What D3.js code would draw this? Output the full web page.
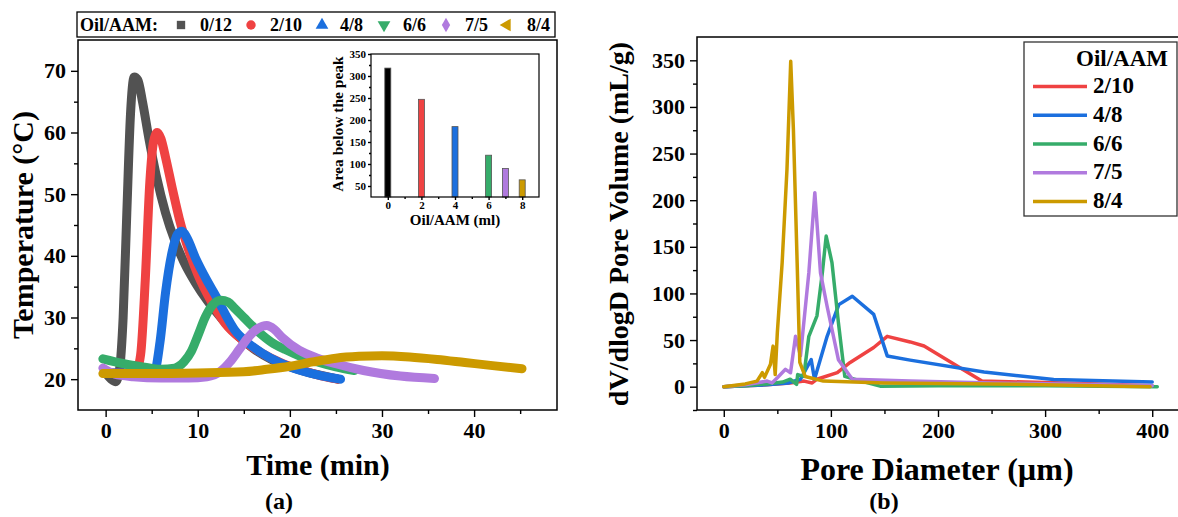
<!DOCTYPE html>
<html><head><meta charset="utf-8">
<script src="https://cdn.jsdelivr.net/npm/d3@7"></script>
<style>
body{margin:0;background:#fff;}
svg{display:block;}
text{font-family:"Liberation Serif","Times New Roman",serif;font-weight:bold;fill:#000;}
</style>
</head><body>
<svg id="c" width="1178" height="517"></svg>
<script>
// ---------- DATA ----------
const seriesNames = ["0/12","2/10","4/8","6/6","7/5","8/4"];
const seriesColors = ["#525252","#ef4242","#1b6fde","#36ac6a","#b07ade","#cc9a00"];
const legendSymbols = ["square","circle","triangle","triangleDown","diamond","triangleLeft"];

// (a) Temperature vs time
const time_0_12 = [0,0.6,1.1,1.5,1.9,2.3,2.7,3.1,3.5,4,4.7,5.5,6.5,7.5,8.5,9.8,11,12.5,14,16,18,20,22,24,25.2];
const temp_0_12 = [21,20,19.6,21.5,30,47,63,69,68.5,65,59,53,47,42.5,39,35.5,32.8,30,27.5,25,23.2,22,21.1,20.4,20];
const time_2_10 = [0,2,3.3,3.8,4.3,4.8,5.2,5.6,6,6.5,7.3,8,9,10,11.5,13,15,17,19,21,23,25.2];
const temp_2_10 = [21,21,21.3,24,36,52,58.5,60,59,56,50.5,46,41,37,32.5,29,26.2,24.2,22.7,21.6,20.7,20];
const time_4_8 = [0,3,5.3,5.9,6.5,7.2,7.8,8.3,8.8,9.8,11,12,13,14,15.5,17,19,21,23,25.5];
const temp_4_8 = [21,21,21.3,26,34,40.5,43.5,44,43,39.5,36,33.4,30.5,28,25.8,24.2,22.6,21.5,20.7,20];
const time_6_6 = [-0.3,2,4,6,7.5,8.5,9.3,10,10.8,11.6,12.5,13.3,14,15,16.5,18,19.5,21,23,25,27];
const temp_6_6 = [23.3,22.5,22,21.6,21.8,22.8,24.5,27,30,32,32.8,32.5,31.5,30,27.8,26,24.8,23.8,22.8,22,21.4];
const time_7_5 = [-0.3,1,3,6,9,11,12.5,13.5,14.5,15.5,16.5,17.5,18.3,19.2,21,23,25,28,32,35.7];
const temp_7_5 = [21.8,20.8,20.4,20.2,20.2,20.4,21.3,22.8,24.8,26.8,28.2,28.7,28.1,26.7,24.7,23.4,22.5,21.4,20.5,20.1];
const time_8_4 = [-0.3,5,10,15,17.5,20,22.5,25,27.5,30,33,36,39,42,45.2];
const temp_8_4 = [20.9,20.9,21,21.2,21.6,22.1,22.8,23.4,23.7,23.8,23.6,23.2,22.7,22.2,21.7];
const timeSeries = [time_0_12,time_2_10,time_4_8,time_6_6,time_7_5,time_8_4];
const tempSeries = [temp_0_12,temp_2_10,temp_4_8,temp_6_6,temp_7_5,temp_8_4];
const timeTicks = [0,10,20,30,40];
const timeMinor = [5,15,25,35,45];
const tempTicks = [20,30,40,50,60,70];
const tempMinor = [25,35,45,55,65];

// inset
const insetOil = [0,2,4,6,7,8];
const insetArea = [318,247,185,120,90,64];
const insetColors = ["#000000","#ef4242","#1b6fde","#36ac6a","#b07ade","#cc9a00"];
const insetXTicks = [0,2,4,6,8];
const insetXMinor = [1,3,5,7];
const insetYTicks = [50,100,150,200,250,300,350];
const insetYMinor = [75,125,175,225,275,325];

// (b) pore size distribution
const poreNames = ["2/10","4/8","6/6","7/5","8/4"];
const poreColors = ["#ef4242","#1b6fde","#36ac6a","#b07ade","#cc9a00"];
const dia_2_10 = [0,20,40,62,75,82.5,87,106,118,140,152.6,174,187,241,300,350,400];
const vol_2_10 = [0,1,2,4,6,4,8,15,26,42,54,48,43.6,6,4.5,3,1];
const dia_4_8 = [0,20,40,60,71.6,81.6,84.7,96.5,107.4,120,140,152.6,174,243,308,400];
const vol_4_8 = [0,1,2,4,8,29,8,54,88,97,77.5,33,28.5,15.7,7.8,5];
const dia_6_6 = [0,20,40,55,62,68,69,74.7,79.4,87,92,95.6,101,107,113,122,146,200,300,404.7];
const vol_6_6 = [0,1,3,5,8,2.5,13,11,54,76,122,161.5,133,69,11,8,0.6,1,1,0];
const dia_7_5 = [0,20,40.5,45,50,57.6,62.3,67,71.6,79.4,85,90.3,96.5,107,120,174,250,330,400];
const vol_7_5 = [0,2,6,4,9.6,18.6,15,54,33,122,208,122,86,29,8,6,4,2.5,1];
const dia_8_4 = [0,20,31,36,38,43.6,46,48,50,54.5,59,62.5,65,68.5,71,76,93,150,250,398];
const vol_8_4 = [0,3,6,15,10,24,43.5,13,58,133,233,349,276,133,26,11,6,4,3,0];
const diaSeries = [dia_2_10,dia_4_8,dia_6_6,dia_7_5,dia_8_4];
const volSeries = [vol_2_10,vol_4_8,vol_6_6,vol_7_5,vol_8_4];
const diaTicks = [0,100,200,300,400];
const diaMinor = [50,150,250,350];
const volTicks = [0,50,100,150,200,250,300,350];
const volMinor = [-25,25,75,125,175,225,275,325];

// ---------- DRAW ----------
const svg = d3.select("#c");
svg.append("rect").attr("width",1178).attr("height",517).attr("fill","#fff");

function axis(g, gen, vals, size, fmt, fs, pad){
  const a = gen.tickValues(vals).tickSizeInner(size).tickSizeOuter(0).tickPadding(pad||4);
  if(fmt===null) a.tickFormat("");
  g.call(a);
  g.select(".domain").remove();
  g.selectAll(".tick line").attr("stroke","#000").attr("stroke-width",1.4);
  g.selectAll(".tick text").style("font-size",fs+"px").style("font-family",'"Liberation Serif","Times New Roman",serif').style("font-weight","bold").attr("fill","#000");
}

// ===== Panel (a) =====
const A = {l:78,r:557,t:40,b:410};
const xA = d3.scaleLinear().domain([-3,49]).range([A.l,A.r]);
const yA = d3.scaleLinear().domain([15,75]).range([A.b,A.t]);

const lineA = d3.line().curve(d3.curveMonotoneX);
seriesNames.forEach((n,i)=>{
  const pts = timeSeries[i].map((t,j)=>[xA(t),yA(tempSeries[i][j])]);
  svg.append("path").attr("d",lineA(pts)).attr("fill","none")
    .attr("stroke",seriesColors[i]).attr("stroke-width",9)
    .attr("stroke-linecap","round").attr("stroke-linejoin","round");
});

svg.append("rect").attr("x",A.l).attr("y",A.t).attr("width",A.r-A.l).attr("height",A.b-A.t)
  .attr("fill","none").attr("stroke","#000").attr("stroke-width",1.5);
axis(svg.append("g").attr("transform",`translate(0,${A.b})`), d3.axisBottom(xA), timeTicks, 7, 1, 22, 5);
axis(svg.append("g").attr("transform",`translate(0,${A.b})`), d3.axisBottom(xA), timeMinor, 4, null, 22);
axis(svg.append("g").attr("transform",`translate(${A.l},0)`), d3.axisLeft(yA), tempTicks, 7, 1, 22, 5);
axis(svg.append("g").attr("transform",`translate(${A.l},0)`), d3.axisLeft(yA), tempMinor, 4, null, 22);

svg.append("text").attr("transform",`translate(33,225) rotate(-90)`).attr("text-anchor","middle")
  .style("font-size","30px").text("Temperature (°C)");
svg.append("text").attr("x",318).attr("y",475).attr("text-anchor","middle").style("font-size","30px").text("Time (min)");
svg.append("text").attr("x",279).attr("y",509).attr("text-anchor","middle").style("font-size","24px").text("(a)");

// legend (a)
const legA = svg.append("g");
legA.append("rect").attr("x",77).attr("y",12).attr("width",478).attr("height",25)
  .attr("fill","#fff").attr("stroke","#000").attr("stroke-width",1.3);
legA.append("text").attr("x",80).attr("y",31).style("font-size","18px").text("Oil/AAM:");
const symX = [181,251,322,384,446,507];
const labX = [200,270,340,403,465,527];
const symMap = {square:d3.symbolSquare,circle:d3.symbolCircle,triangle:d3.symbolTriangle,triangleDown:d3.symbolTriangle,diamond:d3.symbolDiamond,triangleLeft:d3.symbolTriangle};
const symRot = {square:0,circle:0,triangle:0,triangleDown:180,diamond:0,triangleLeft:-90};
seriesNames.forEach((n,i)=>{
  const s = legendSymbols[i];
  legA.append("path").attr("d",d3.symbol().type(symMap[s]).size(s==="diamond"?60:70)())
    .attr("transform",`translate(${symX[i]},25) rotate(${symRot[s]})`).attr("fill",seriesColors[i]);
  legA.append("text").attr("x",labX[i]).attr("y",31).style("font-size","18px").text(n);
});

// inset
const I = {l:371,r:539,t:54,b:197};
const xI = d3.scaleLinear().domain([-1,9]).range([I.l,I.r]);
const yI = d3.scaleLinear().domain([25,350]).range([I.b,I.t]);
insetOil.forEach((o,i)=>{
  svg.append("rect").attr("x",xI(o)-3).attr("y",yI(insetArea[i])).attr("width",6)
    .attr("height",yI(25)-yI(insetArea[i])).attr("fill",insetColors[i]).attr("stroke","#555").attr("stroke-width",0.8);
});
svg.append("rect").attr("x",I.l).attr("y",I.t).attr("width",I.r-I.l).attr("height",I.b-I.t)
  .attr("fill","none").attr("stroke","#000").attr("stroke-width",1.2);
axis(svg.append("g").attr("transform",`translate(0,${I.b})`), d3.axisBottom(xI), insetXTicks, 3, 1, 11, 1);
axis(svg.append("g").attr("transform",`translate(0,${I.b})`), d3.axisBottom(xI), insetXMinor, 2, null, 11);
axis(svg.append("g").attr("transform",`translate(${I.l},0)`), d3.axisLeft(yI), insetYTicks, 3, 1, 11, 2);
axis(svg.append("g").attr("transform",`translate(${I.l},0)`), d3.axisLeft(yI), insetYMinor, 2, null, 11);
svg.append("text").attr("transform",`translate(343,124) rotate(-90)`).attr("text-anchor","middle")
  .style("font-size","15.5px").text("Area below the peak");
svg.append("text").attr("x",455).attr("y",225).attr("text-anchor","middle").style("font-size","15px").text("Oil/AAM (ml)");

// ===== Panel (b) =====
const B = {l:697,r:1179,t:37,b:410};
const xB = d3.scaleLinear().domain([-25,425]).range([B.l,B.r]);
const yB = d3.scaleLinear().domain([-25,375]).range([B.b,B.t]);
const lineB = d3.line();
poreNames.forEach((n,i)=>{
  const pts = diaSeries[i].map((d,j)=>[xB(d),yB(volSeries[i][j])]);
  svg.append("path").attr("d",lineB(pts)).attr("fill","none")
    .attr("stroke",poreColors[i]).attr("stroke-width",3.5).attr("stroke-linejoin","round").attr("stroke-linecap","round");
});
svg.append("rect").attr("x",B.l).attr("y",B.t).attr("width",B.r-B.l).attr("height",B.b-B.t)
  .attr("fill","none").attr("stroke","#000").attr("stroke-width",1.5);
axis(svg.append("g").attr("transform",`translate(0,${B.b})`), d3.axisBottom(xB), diaTicks, 7, 1, 22, 5);
axis(svg.append("g").attr("transform",`translate(0,${B.b})`), d3.axisBottom(xB), diaMinor, 4, null, 22);
axis(svg.append("g").attr("transform",`translate(${B.l},0)`), d3.axisLeft(yB), volTicks, 7, 1, 22, 5);
axis(svg.append("g").attr("transform",`translate(${B.l},0)`), d3.axisLeft(yB), volMinor, 4, null, 22);

svg.append("text").attr("transform",`translate(628,224) rotate(-90)`).attr("text-anchor","middle")
  .style("font-size","28px").text("dV/dlogD Pore Volume (mL/g)");
svg.append("text").attr("x",937).attr("y",480).attr("text-anchor","middle").style("font-size","32px").text("Pore Diameter (µm)");
svg.append("text").attr("x",884).attr("y",509).attr("text-anchor","middle").style("font-size","24px").text("(b)");

// legend (b)
const legB = svg.append("g");
legB.append("rect").attr("x",1024).attr("y",42).attr("width",153).attr("height",174)
  .attr("fill","#fff").attr("stroke","#333").attr("stroke-width",1.3);
legB.append("text").attr("x",1168).attr("y",66).attr("text-anchor","end").style("font-size","23px").text("Oil/AAM");
poreNames.forEach((n,i)=>{
  const yb = 93.3 + i*28.7;
  legB.append("line").attr("x1",1033).attr("x2",1087).attr("y1",yb-6.7).attr("y2",yb-6.7)
    .attr("stroke",poreColors[i]).attr("stroke-width",3.5);
  legB.append("text").attr("x",1093).attr("y",yb).style("font-size","23px").text(n);
});
</script>
</body></html>
